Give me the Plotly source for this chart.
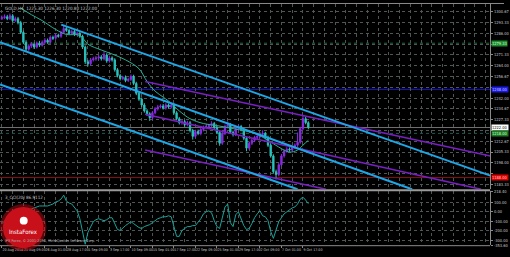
import plotly.graph_objects as go

W, H = 510, 257

# ---------------- data ----------------
x_labels = ["20 Aug 2014", "21 Aug 09:00", "26 Aug 01:00", "28 Aug 17:00", "1 Sep 09:00",
            "3 Sep 17:00", "10 Sep 09:00", "15 Sep 01:00", "17 Sep 17:00", "22 Sep 09:00",
            "25 Sep 01:00", "29 Sep 17:00", "2 Oct 09:00", "7 Oct 01:00", "9 Oct 17:00"]

price_ticks = [1300.67, 1293.33, 1286.00, 1278.67, 1271.33, 1264.00, 1256.67, 1249.33, 1242.00,
               1234.67, 1227.33, 1220.00, 1212.67, 1205.33, 1198.00, 1190.67, 1183.33]

cci_ticks = [218.40, 100, 0, -100, -200, -300, -353.60]

opens = [1296.0,1296.7,1297.3,1296.0,1298.0,1294.7,1296.0,1293.3,1286.7,1280.0,
         1275.3,1277.3,1278.7,1276.7,1279.3,1278.0,1280.0,1281.3,1280.0,1283.3,
         1282.7,1284.7,1284.0,1286.7,1289.3,1288.0,1286.0,1287.3,1285.3,1286.0,
         1284.0,1276.7,1266.7,1265.3,1268.0,1268.7,1269.3,1270.0,1268.7,1271.3,
         1267.3,1269.3,1268.0,1261.3,1257.3,1255.3,1256.0,1254.0,1254.7,1256.7,
         1252.0,1245.3,1241.3,1237.3,1233.3,1231.3,1228.7,1232.0,1234.7,1236.0,
         1236.7,1235.3,1237.3,1236.0,1237.3,1232.0,1228.0,1225.3,1226.0,1224.0,
         1225.3,1220.0,1216.0,1219.3,1218.0,1220.7,1222.0,1222.7,1223.3,1224.7,
         1222.0,1218.7,1211.3,1218.0,1222.7,1224.0,1218.7,1217.3,1221.3,1222.7,
         1220.7,1214.7,1208.0,1211.3,1213.3,1215.3,1216.0,1217.3,1218.0,1215.3,
         1210.0,1202.7,1192.0,1190.0,1196.7,1202.7,1206.0,1207.3,1206.7,1208.7,
         1210.0,1212.0,1221.3,1228.0,1225.3]
highs = [1298.2,1298.9,1298.6,1299.5,1299.1,1297.4,1297.2,1294.5,1287.9,1281.4,
         1278.6,1280.1,1279.8,1280.5,1280.9,1281.2,1282.8,1282.5,1284.6,1284.5,
         1285.9,1285.8,1287.8,1291.5,1290.4,1289.0,1288.6,1288.4,1287.2,1287.0,
         1285.1,1277.8,1268.0,1269.3,1270.1,1270.6,1271.5,1271.2,1273.8,1272.5,
         1270.9,1270.4,1269.1,1262.4,1258.5,1257.2,1257.4,1255.9,1258.1,1257.9,
         1253.1,1246.5,1242.4,1238.6,1234.5,1232.4,1233.2,1235.9,1237.4,1237.8,
         1238.0,1238.6,1238.4,1239.0,1238.4,1233.1,1229.2,1227.3,1227.2,1226.6,
         1226.4,1221.1,1220.5,1220.6,1221.9,1223.3,1224.0,1224.5,1226.3,1225.8,
         1223.2,1219.8,1219.2,1224.0,1226.2,1225.1,1219.9,1222.5,1224.0,1223.8,
         1221.8,1215.8,1212.5,1214.5,1216.4,1217.2,1218.8,1220.1,1219.1,1216.4,
         1211.1,1203.8,1193.4,1197.9,1203.9,1207.2,1208.6,1208.5,1209.9,1211.2,
         1218.6,1222.5,1230.0,1229.2,1226.3]
lows = [1295.1,1295.8,1295.0,1295.2,1293.6,1293.9,1292.1,1285.6,1278.7,1273.9,
        1274.2,1276.1,1275.4,1275.7,1276.8,1277.0,1279.0,1278.9,1279.1,1281.5,
        1281.6,1283.1,1283.0,1285.7,1287.0,1284.9,1285.0,1284.2,1284.3,1282.9,
        1275.4,1265.2,1263.6,1264.2,1266.9,1267.4,1268.1,1267.5,1267.6,1266.0,
        1266.1,1266.8,1260.0,1256.1,1254.0,1254.2,1252.8,1252.9,1253.6,1250.8,
        1244.0,1240.1,1236.0,1232.1,1229.9,1226.5,1227.3,1231.0,1233.5,1235.0,
        1234.2,1234.1,1234.9,1234.9,1230.8,1226.9,1224.1,1223.9,1222.6,1222.8,
        1218.7,1213.8,1214.9,1216.8,1216.7,1219.4,1220.8,1221.5,1222.0,1220.8,
        1217.5,1209.6,1210.2,1216.9,1221.4,1217.6,1215.9,1216.2,1220.1,1219.5,
        1213.4,1205.9,1206.8,1210.1,1212.1,1214.0,1214.9,1216.1,1214.0,1208.8,
        1201.5,1190.6,1186.7,1188.8,1195.5,1201.5,1204.9,1205.5,1205.4,1207.5,
        1208.8,1211.0,1220.2,1224.2,1220.8]
closes = [1296.7,1297.3,1296.0,1298.0,1294.7,1296.0,1293.3,1286.7,1280.0,1275.3,
          1277.3,1278.7,1276.7,1279.3,1278.0,1280.0,1281.3,1280.0,1283.3,1282.7,
          1284.7,1284.0,1286.7,1289.3,1288.0,1286.0,1287.3,1285.3,1286.0,1284.0,
          1276.7,1266.7,1265.3,1268.0,1268.7,1269.3,1270.0,1268.7,1271.3,1267.3,
          1269.3,1268.0,1261.3,1257.3,1255.3,1256.0,1254.0,1254.7,1256.7,1252.0,
          1245.3,1241.3,1237.3,1233.3,1231.3,1228.7,1232.0,1234.7,1236.0,1236.7,
          1235.3,1237.3,1236.0,1237.3,1232.0,1228.0,1225.3,1226.0,1224.0,1225.3,
          1220.0,1216.0,1219.3,1218.0,1220.7,1222.0,1222.7,1223.3,1224.7,1222.0,
          1218.7,1211.3,1218.0,1222.7,1224.0,1218.7,1217.3,1221.3,1222.7,1220.7,
          1214.7,1208.0,1211.3,1213.3,1215.3,1216.0,1217.3,1218.0,1215.3,1210.0,
          1202.7,1192.0,1190.0,1196.7,1202.7,1206.0,1207.3,1206.7,1208.7,1210.0,
          1212.0,1221.3,1228.0,1225.3,1222.0]

ma_bar = [7, 11, 15, 20, 24, 29, 32, 37, 41, 46, 51, 54, 57, 60, 62, 66, 70, 75, 80, 86,
          94, 99, 103, 107, 110, 112, 114]
ma_val = [1303.3, 1298.7, 1294.7, 1288.7, 1285.3, 1284.7, 1278.7, 1274.7, 1272.0, 1268.0,
          1262.0, 1253.3, 1246.7, 1242.7, 1240.0, 1233.3, 1228.0, 1224.7, 1223.3, 1221.3,
          1218.0, 1213.3, 1208.7, 1205.3, 1206.7, 1210.0, 1213.3]

cci = [-124.8,-93.6,-62.4,-41.6,-20.8,-10.4,10.4,10.4,0,0,
       10.4,31.2,41.6,52,62.4,62.4,62.4,62.4,72.8,83.2,
       104,114.4,135.2,176.8,114.4,93.6,83.2,52,10.4,-72.8,
       -228.8,-343.2,-218.4,-156,-104,-83.2,-72.8,-83.2,-93.6,-83.2,
       -62.4,-62.4,-135.2,-187.2,-197.6,-166.4,-145.6,-124.8,-104,-124.8,
       -145.6,-166.4,-176.8,-156,-145.6,-135.2,-114.4,-93.6,-72.8,-62.4,
       -52,-52,-41.6,-52,-145.6,-260,-260,-197.6,-176.8,-156,
       -156,-145.6,-145.6,-114.4,-72.8,-20.8,0,10.4,-10.4,-93.6,
       -156,-176.8,-52,52,83.2,-114.4,-156,-31.2,0,-72.8,
       -145.6,-187.2,-176.8,-124.8,-62.4,-20.8,10.4,-41.6,-52,-93.6,
       -208,-280.8,-187.2,-104,-62.4,-20.8,0,20.8,41.6,52,
       83.2,135.2,156,124.8,86.9]

# trend channel lines: (bar0, bar1), (price0, price1)
cyan_lines = [((22.1, 181.7), (1292.0, 1189.3)),
              ((-0.7, 152.6), (1280.0, 1180.0)),
              ((-0.7, 110.0), (1251.3, 1180.0))]
purple_lines = [((53.3, 181.7), (1253.3, 1202.7)),
                ((53.3, 178.3), (1231.0, 1180.0)),
                ((53.3, 120.6), (1206.7, 1180.0))]

# horizontal levels: price, line colour, dash, label bg, label font colour
levels = [1279.33, 1248.00, 1222.00, 1218.00, 1188.00]
level_style = [("#1d6a3a", "dot", "#1c8a2c", "#d8ffd8"),
               ("#1a1ad0", "solid", "#1a1ae6", "#d0d0ff"),
               ("#707070", "solid", "#ffffff", "#000000"),
               ("#1a5a50", "dot", "#1a7a22", "#d8ffd8"),
               ("#8a1010", "solid", "#e00000", "#ffd0d0")]

# ---------------- figure ----------------
def py(p):
    return 1 - p / H

def px(p):
    return p / W

bars = list(range(len(closes)))
tick_pos = [8 * k for k in range(len(x_labels))]
XR = [-0.70, 181.65]
GRID = "#4e5756"
LBL = "#c8c8c8"
FONT = "Liberation Sans Narrow, DejaVu Sans Condensed, Liberation Sans, sans-serif"
UP = "#8a2be2"
DN_LINE = "#2cc4b8"
DN_FILL = "#28b8dc"
CYAN = "#1ea6e6"
PURP = "#7a1fc4"
PX_PER_PRICE = 189 / (1306.0 - 1180.0)

# a tick label hidden where a level box covers it (as in the terminal)
price_text = []
for v in price_ticks:
    covered = any(abs(v - lv) * PX_PER_PRICE < 5.5 for lv in levels)
    price_text.append("" if covered else f"{v:.2f}")

fig = go.Figure()

fig.add_trace(go.Candlestick(
    x=bars, open=opens, high=highs, low=lows, close=closes, xaxis="x", yaxis="y",
    increasing=dict(line=dict(color=UP, width=1), fillcolor=UP),
    decreasing=dict(line=dict(color=DN_LINE, width=1), fillcolor=DN_FILL),
    whiskerwidth=0, showlegend=False, hoverinfo="skip"))

fig.add_trace(go.Scatter(x=ma_bar, y=ma_val, mode="lines", xaxis="x", yaxis="y",
                         line=dict(color="#28b096", width=1, shape="spline"),
                         showlegend=False, hoverinfo="skip"))

for (xs, ys) in purple_lines:
    fig.add_trace(go.Scatter(x=list(xs), y=list(ys), mode="lines", xaxis="x", yaxis="y",
                             line=dict(color=PURP, width=1.5), showlegend=False, hoverinfo="skip"))
for (xs, ys) in cyan_lines:
    fig.add_trace(go.Scatter(x=list(xs), y=list(ys), mode="lines", xaxis="x", yaxis="y",
                             line=dict(color=CYAN, width=2), showlegend=False, hoverinfo="skip"))

fig.add_trace(go.Scatter(x=bars, y=cci, mode="lines", xaxis="x2", yaxis="y2",
                         line=dict(color="#1aa39a", width=1), showlegend=False, hoverinfo="skip"))

shapes = []
annotations = []
for lv, (lc, dash, bg, fc) in zip(levels, level_style):
    shapes.append(dict(type="line", xref="paper", yref="y", x0=0, x1=px(496), y0=lv, y1=lv,
                       line=dict(color=lc, width=1, dash=dash), layer="below"))
    annotations.append(dict(xref="paper", yref="y", x=px(496.5), y=lv, xanchor="left",
                            yanchor="middle", text=f"{lv:.2f}", showarrow=False,
                            bgcolor=bg, borderpad=0,
                            font=dict(size=4, color=fc, family=FONT)))

# frame: top border, pane separator, bottom line
shapes.append(dict(type="line", xref="paper", yref="paper", x0=0, x1=1, y0=py(0.5), y1=py(0.5),
                   line=dict(color="#8a8a8a", width=1)))
shapes.append(dict(type="rect", xref="paper", yref="paper", x0=0, x1=px(496), y0=py(192),
                   y1=py(190), line=dict(width=0), fillcolor="#9a9a9a"))
shapes.append(dict(type="line", xref="paper", yref="paper", x0=0, x1=px(496), y0=py(247.5),
                   y1=py(247.5), line=dict(color="#8a8a8a", width=1)))

# InstaForex badge
shapes.append(dict(type="circle", xref="paper", yref="paper", x0=px(0), x1=px(47),
                   y0=py(253), y1=py(205), fillcolor="rgba(200,16,26,0.45)", line=dict(width=0)))
shapes.append(dict(type="circle", xref="paper", yref="paper", x0=px(3), x1=px(44),
                   y0=py(250), y1=py(208), fillcolor="#c8101a", line=dict(width=0)))
shapes.append(dict(type="circle", xref="paper", yref="paper", x0=px(20), x1=px(28),
                   y0=py(226), y1=py(218), fillcolor="#ffffff", line=dict(width=0)))

annotations += [
    dict(xref="paper", yref="paper", x=px(3), y=py(1.5), xanchor="left", yanchor="top",
         text="GOLD,H4  1225.30 1226.30 1220.80 1222.00", showarrow=False,
         font=dict(size=4.5, color=LBL, family=FONT)),
    dict(xref="paper", yref="paper", x=px(3), y=py(193.5), xanchor="left", yanchor="top",
         text="3_CCI(20) 86.9112", showarrow=False, font=dict(size=4.5, color=LBL, family=FONT)),
    dict(xref="paper", yref="paper", x=px(24), y=py(233), xanchor="center", yanchor="middle",
         text="InstaForex", showarrow=False, font=dict(size=6, color="#ffffff", family=FONT)),
    dict(xref="paper", yref="paper", x=px(3), y=py(242.5), xanchor="left", yanchor="middle",
         text="IFX Forex, © 2001-2014, MetaQuotes Software Corp.", showarrow=False,
         font=dict(size=3.8, color="#b0b0b0", family=FONT)),
]

axis_common = dict(range=XR, tickmode="array", tickvals=tick_pos, showgrid=True,
                   gridcolor=GRID, griddash="dot", gridwidth=1, zeroline=False,
                   minor=dict(tickmode="linear", tick0=0, dtick=4, showgrid=True,
                              gridcolor=GRID, griddash="dot", gridwidth=1),
                   fixedrange=True, domain=[0, px(496)])

fig.update_layout(
    width=W, height=H, margin=dict(l=0, r=0, t=0, b=0),
    paper_bgcolor="#000000", plot_bgcolor="#000000",
    xaxis=dict(**axis_common, anchor="y", showticklabels=False, rangeslider=dict(visible=False)),
    xaxis2=dict(**axis_common, anchor="y2", matches="x", showticklabels=True,
                ticktext=x_labels, ticklabelposition="outside right", tickangle=0,
                ticks="outside", ticklen=2, tickcolor="#8a8a8a",
                tickfont=dict(size=3.6, color=LBL, family=FONT)),
    yaxis=dict(domain=[py(190), py(1)], range=[1180.0, 1306.0], side="right", anchor="x",
               tickmode="array", tickvals=price_ticks, ticktext=price_text,
               tickfont=dict(size=4, color=LBL, family=FONT), ticks="outside", ticklen=2,
               tickcolor="#8a8a8a", showgrid=True, gridcolor=GRID, griddash="dot",
               zeroline=False, showline=True, linecolor="#8a8a8a", linewidth=1, fixedrange=True),
    yaxis2=dict(domain=[py(247), py(192)], range=[-353.6, 218.4], side="right", anchor="x2",
                tickmode="array", tickvals=cci_ticks, ticktext=[f"{v:.2f}" for v in cci_ticks],
                tickfont=dict(size=4, color=LBL, family=FONT), ticks="outside", ticklen=2,
                tickcolor="#8a8a8a", showgrid=True, gridcolor=GRID, griddash="dot",
                zeroline=False, showline=True, linecolor="#8a8a8a", linewidth=1, fixedrange=True),
    shapes=shapes, annotations=annotations,
)

fig.write_html("out.html")
